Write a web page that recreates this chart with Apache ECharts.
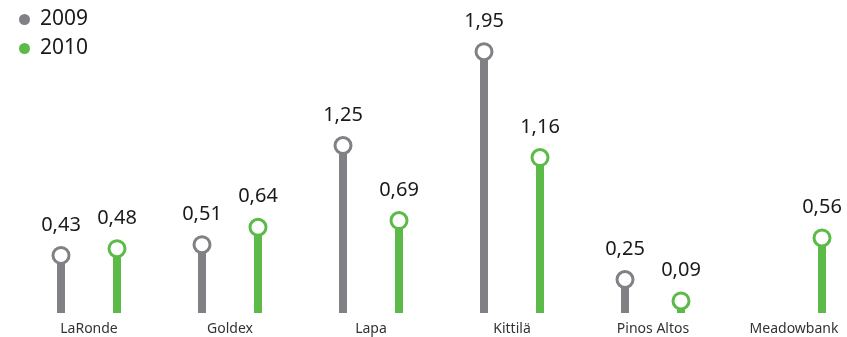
<!DOCTYPE html>
<html><head><meta charset="utf-8">
<script src="https://cdn.jsdelivr.net/npm/echarts@6/dist/echarts.min.js"></script>
<style>html,body{margin:0;padding:0;background:#fff}#c{width:847px;height:337px}</style>
</head><body><div id="c"></div>
<script>
const categories = ['LaRonde', 'Goldex', 'Lapa', 'Kittilä', 'Pinos Altos', 'Meadowbank'];
const values2009 = [0.43, 0.51, 1.25, 1.95, 0.25, null];
const values2010 = [0.48, 0.64, 0.69, 1.16, 0.09, 0.56];
const seriesNames = ['2009', '2010'];

const GRAY = '#818085', GREEN = '#5cbb48';
const FONT = '"Noto Sans", Roboto, sans-serif';
const OFF = 28;
const fmt = p => p.value == null ? '' : p.value.toFixed(2).replace('.', ',');

function stem(name, data, color) {
  return {
    name, type: 'bar', data, barWidth: 8, barGap: '600%',
    itemStyle: { color }, z: 2, silent: true, legendHoverLink: false
  };
}
function head(name, data, color, dx) {
  return {
    name, type: 'scatter', data, symbol: 'circle', symbolSize: 16,
    symbolOffset: [dx, 0],
    itemStyle: { color: '#fff', borderColor: color, borderWidth: 3, opacity: 1 },
    label: { show: true, position: 'top', distance: 11, formatter: fmt,
      color: '#1a1a1a', fontSize: 20, fontFamily: FONT },
    z: 5
  };
}

const chart = echarts.init(document.getElementById('c'));
chart.setOption({
  animation: false,
  color: [GRAY, GREEN],
  legend: {
    data: [{ name: seriesNames[0], itemStyle: { color: GRAY, borderWidth: 0 } },
           { name: seriesNames[1], itemStyle: { color: GREEN, borderWidth: 0 } }],
    orient: 'vertical', left: 14, top: 4, icon: 'circle',
    itemWidth: 11, itemHeight: 11, itemGap: 8,
    textStyle: { fontSize: 21, color: '#1a1a1a', fontFamily: FONT, padding: [0, 0, 0, 5] }
  },
  grid: { left: 18.5, width: 846, top: 45, bottom: 24, containLabel: false, outerBoundsMode: 'none' },
  xAxis: {
    type: 'category', data: categories, boundaryGap: true,
    axisLine: { show: false }, axisTick: { show: false },
    axisLabel: { color: '#333', fontSize: 14, fontFamily: FONT, margin: 9 }
  },
  yAxis: { type: 'value', min: 0, max: 2, show: false, splitLine: { show: false } },
  series: [
    stem(seriesNames[0], values2009, GRAY),
    stem(seriesNames[1], values2010, GREEN),
    head(seriesNames[0], values2009, GRAY, -OFF),
    head(seriesNames[1], values2010, GREEN, OFF)
  ]
});
</script></body></html>
